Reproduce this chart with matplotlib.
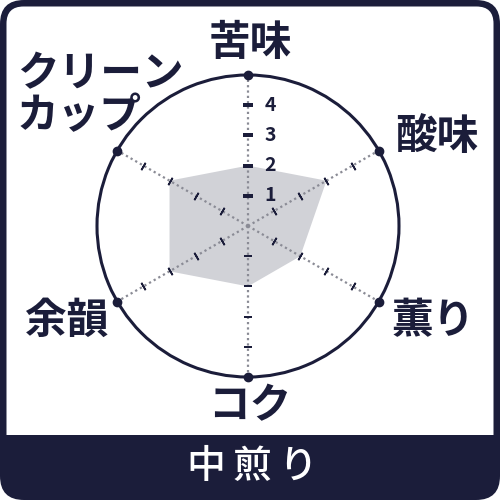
import numpy as np
import matplotlib
matplotlib.use("Agg")
import matplotlib.pyplot as plt
from matplotlib.patches import FancyBboxPatch, Rectangle

plt.rcParams['font.family'] = ['Noto Sans CJK JP', 'DejaVu Sans']

navy = '#1b1d3a'
fill_gray = '#d1d2d7'
dot_gray = '#8a8b95'

# data
categories = ['苦味', '酸味', '薫り', 'コク', '余韻', 'クリーン\nカップ']
values = [2, 3, 2, 2, 3, 3]
r_max = 5
r_ticks = [1, 2, 3, 4]
roast = '中煎り'

# label positions in pixels (x, y from top) and alignment
label_pos = [(250, 43, 'center'), (437, 137, 'center'), (433, 321, 'center'),
             (250, 406, 'center'), (67, 321, 'center'), (17, 95, 'left')]

fig = plt.figure(figsize=(5, 5), dpi=100)
fig.patch.set_facecolor('white')

# background / frame
bg = fig.add_axes([0, 0, 1, 1])
bg.set_xlim(0, 500)
bg.set_ylim(500, 0)
bg.axis('off')
bg.add_patch(FancyBboxPatch((0, 0), 500, 500, boxstyle='round,pad=0,rounding_size=24',
                            fc=navy, ec='none'))
bg.add_patch(FancyBboxPatch((6.5, 6.5), 487, 460, boxstyle='round,pad=0,rounding_size=17',
                            fc='white', ec='none'))
bg.add_patch(Rectangle((0, 435), 500, 40, fc=navy, ec='none'))
# roast label, spaced out letter by letter
for k, ch in enumerate(roast):
    bg.text(206 + k * 46, 467, ch, color='white', fontsize=28, ha='center', va='center',
            fontweight='medium')

for (x, y, ha), lab in zip(label_pos, categories):
    bg.text(x, y, lab, color=navy, fontsize=30, fontweight='bold', ha=ha, va='center',
            linespacing=1.0)

# radar
cx, cy, rad = 248, 226, 151
ax = fig.add_axes([(cx - rad) / 500, (500 - cy - rad) / 500, 2 * rad / 500, 2 * rad / 500],
                  projection='polar')
ax.set_theta_offset(np.pi / 2)
ax.set_theta_direction(-1)
ax.set_ylim(0, r_max)
ax.patch.set_alpha(0)
ax.grid(False)
ax.set_xticks([])
ax.set_yticks([])
ax.spines['polar'].set_color(navy)
ax.spines['polar'].set_linewidth(2.2)

n = len(categories)
angles = np.arange(n) * 2 * np.pi / n

ax.fill(np.append(angles, angles[0]), values + values[:1], color=fill_gray, lw=0, zorder=1)

for i, a in enumerate(angles):
    ax.plot([a, a], [0, r_max], color=dot_gray, lw=1.6, ls=(0, (1, 1.4)), zorder=2)
    ang_deg = np.degrees(a)
    ax.plot([a] * len(r_ticks), r_ticks, ls='none', marker=(2, 2, 90 - ang_deg),
            ms=7 if i == 0 else 6, mew=1.6 if i == 0 else 1.2, mec=navy, zorder=3)
    ax.plot([a], [r_max], marker='o', ms=6, color=navy, zorder=4, clip_on=False)

for t in r_ticks:
    ax.annotate(str(t), xy=(0, t), xytext=(12, 0), textcoords='offset points',
                ha='left', va='center', fontsize=14, fontweight='bold', color=navy)

fig.savefig('out.png', dpi=100, facecolor='white')
